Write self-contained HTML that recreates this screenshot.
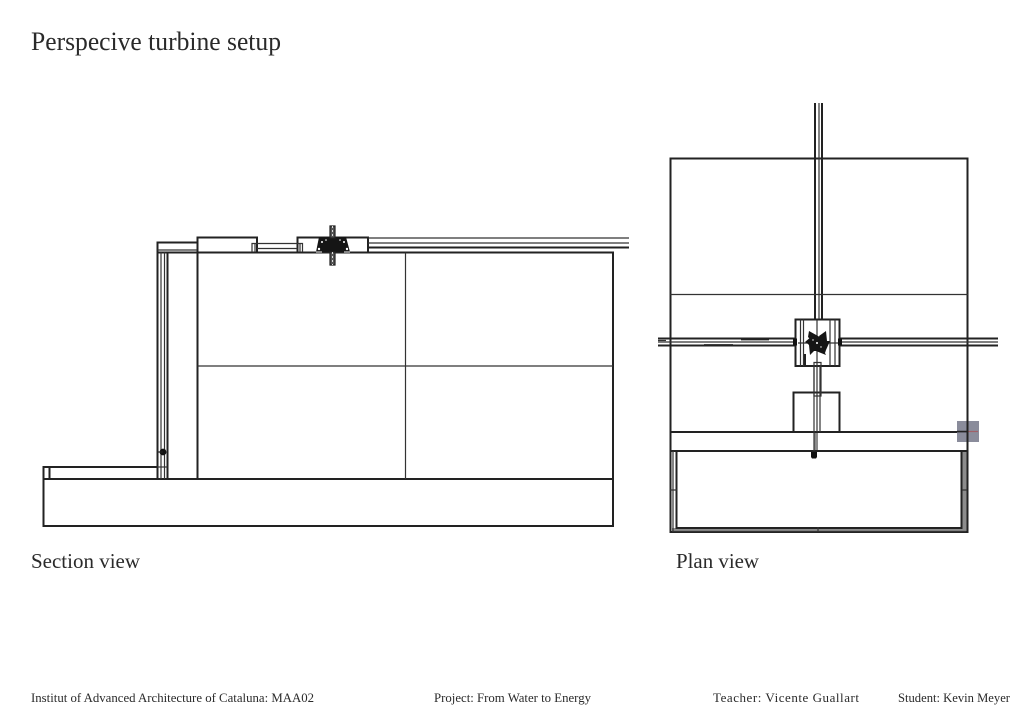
<!DOCTYPE html>
<html>
<head>
<meta charset="utf-8">
<style>
html,body{margin:0;padding:0;background:#fff;width:1024px;height:724px;overflow:hidden}
svg{display:block}
text{font-family:"Liberation Serif",serif;fill:#2a2a2a}
</style>
</head>
<body>
<svg width="1024" height="724" viewBox="0 0 1024 724" xmlns="http://www.w3.org/2000/svg">
<rect width="1024" height="724" fill="#fff"/>
<text x="31" y="50" font-size="26" textLength="250" lengthAdjust="spacingAndGlyphs">Perspecive turbine setup</text>
<text x="31" y="568" font-size="21" textLength="109" lengthAdjust="spacingAndGlyphs">Section view</text>
<text x="676" y="568" font-size="21" textLength="83" lengthAdjust="spacingAndGlyphs">Plan view</text>
<g font-size="13">
<text x="31" y="702" textLength="283" lengthAdjust="spacingAndGlyphs">Institut of Advanced Architecture of Cataluna: MAA02</text>
<text x="434" y="702" textLength="157" lengthAdjust="spacingAndGlyphs">Project: From Water to Energy</text>
<text x="713" y="702" textLength="146" lengthAdjust="spacing">Teacher: Vicente Guallart</text>
<text x="898" y="702" textLength="112" lengthAdjust="spacingAndGlyphs">Student: Kevin Meyer</text>
</g>

<!-- Section view -->
<g fill="none" stroke="#222" stroke-width="2">
<path d="M197.5 252.5H613V479H197.5Z"/>
<path d="M43.5 479H613V526H43.5Z"/>
<path d="M43.5 479V467H157.5"/>
<path d="M157.5 479V242.5H197"/>
<path d="M167.5 479V252.5"/>
<path d="M157.5 252.500H197"/>
<path d="M197.500 252V237.500H257V252"/>
<path d="M297.500 252V237.500H368V252"/>
<path d="M49.500 467V479"/>
</g>
<g fill="none" stroke="#333" stroke-width="1.2">
<path d="M405.500 252.500V479M197.500 366H613"/>
<path d="M157.500 250H197M161 252V479M164.500 252V479"/>
<path d="M157.500 467H167.500"/>
<path d="M252 252V243.500H257M255 243.500V252"/>
<path d="M257 243.500H297.500M257 248.500H297.500"/>
<path d="M302.500 252V243.500H297.500M300 243.500V252"/>
<path d="M368 238H629M368 243H629"/>
</g>
<path d="M368 247.500H629" stroke="#222" stroke-width="2" fill="none"/>
<circle cx="163" cy="452" r="3.400" fill="#111"/>
<path d="M158 452H163" stroke="#222" stroke-width="1.200"/>
<!-- Section turbine -->
<path d="M319 237H346L350 252H316Z" fill="#151515"/>
<g fill="#fff">
<circle cx="322" cy="242" r="1"/><circle cx="326" cy="240" r="0.800"/><circle cx="344" cy="242" r="1"/><circle cx="340" cy="240" r="0.800"/><circle cx="347" cy="249" r="1.200"/><circle cx="319" cy="249" r="1.200"/>
</g>
<path d="M316 252H322M344 252H350" stroke="#aaa" stroke-width="1.500"/>
<path d="M330 226H335V238H330ZM330 252H335V265H330Z" fill="#555" stroke="#222" stroke-width="1.200"/>
<path d="M332.500 226V238M332.500 252V265" stroke="#ddd" stroke-width="1" stroke-dasharray="2 2"/>

<!-- Plan view -->
<path d="M962 451H967V531H962ZM672 528H966V531H672Z" fill="#8c8c8c"/>
<path d="M814 432H818V451H814Z" fill="#8c8c8c"/>
<g fill="none" stroke="#222" stroke-width="2">
<path d="M670.500 532V158.500H967.500V532Z"/>
<path d="M670.500 432H967.500M670.500 451H967.500"/>
<path d="M676.500 451V528H961.500V451"/>
<path d="M793.500 432V392.500H839.500V432"/>
<path d="M795.500 319.500H839.500V366H795.500Z"/>
<path d="M815 103V319M822 103V319"/>
<path d="M658 338.500H795M658 345.500H795M840 338.500H998M840 345.500H998"/>
<path d="M741 339.500H769M704 345H733" stroke-width="1.800"/>
</g>
<g fill="none" stroke="#333" stroke-width="1.200">
<path d="M670 294.500H968"/>
<path d="M819 103V319"/>
<path d="M658 342H795M840 342H998"/>
<path d="M658 340.500H666"/>
<path d="M673 451V531M818 527V532M672 531.500H966"/>
<path d="M670 490H677M962 490H967"/>
<path d="M800.500 319.500V366M803.500 319.500V366M830 319.500V366M835 319.500V366"/>
<path d="M817 320V366M798 343H838"/>
<path d="M814 366V451M820 366V432M817 366V432"/>
<path d="M814 362.500H821V396H814Z"/>
</g>
<path d="M805 354V365" stroke="#222" stroke-width="2"/>
<path d="M793 338.500h4v7h-4ZM838 338.500h4v7h-4Z" fill="#111"/>
<path d="M811 452H817V457L816 458.500H812L811 457Z" fill="#111"/>
<!-- Star -->
<g fill="#151515">
<circle cx="817" cy="343" r="6"/>
<path d="M809 331L818 336L821 338L815 344L808 337Z"/>
<path d="M826 331L827 341L830 343L821 344L819 336Z"/>
<path d="M830 341L826 350L825 353L818 347L824 341Z"/>
<path d="M826 355L816 351L813 351L815 342L822 347Z"/>
<path d="M810 355L809 345L806 342L815 340L815 350Z"/>
<path d="M805 342L812 336L816 340L812 346Z"/>
</g>
<g fill="#fff"><circle cx="817" cy="343" r="1"/><circle cx="813" cy="340" r="0.700"/><circle cx="821" cy="347" r="0.700"/></g>
<!-- Selection marker -->
<rect x="957" y="421" width="22" height="21" fill="#7d8090" fill-opacity=".9"/>
<path d="M957 431.500H967" stroke="#222" stroke-width="1.500"/>
<path d="M967 431.500H978" stroke="#a06068" stroke-width="1.200"/>
<path d="M967.500 421V442" stroke="#222" stroke-width="2"/>
</svg>
</body>
</html>
